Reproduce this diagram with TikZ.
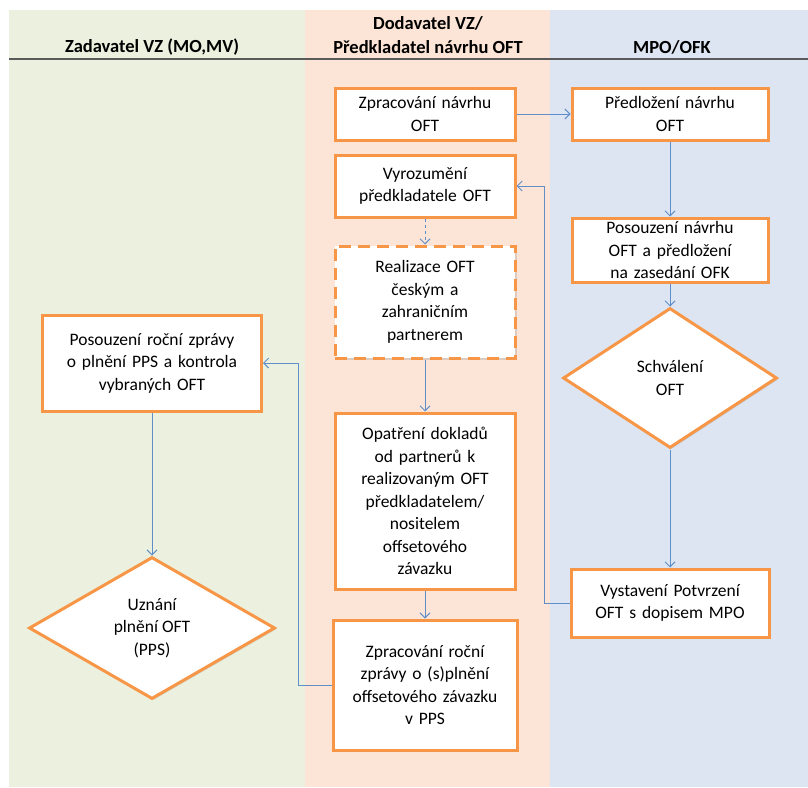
\documentclass[tikz,border=0pt]{standalone}
\usepackage{fontspec}
\setmainfont{Carlito}
\usetikzlibrary{shapes.geometric,shadows,arrows.meta}
\definecolor{greenbg}{RGB}{235,241,222}
\definecolor{orangebg}{RGB}{252,229,214}
\definecolor{bluebg}{RGB}{220,229,241}
\definecolor{boxline}{RGB}{247,150,70}
\definecolor{arrowcol}{RGB}{96,142,200}
\definecolor{headline}{RGB}{90,90,90}

\begin{document}
\begin{tikzpicture}[x=1pt,y=-1pt,font=\fontsize{17.5}{22.5}\selectfont,
  >={Straight Barb[length=5pt,width=10pt]},
  box/.style={rectangle,draw=boxline,line width=3pt,fill=white,align=center,inner sep=2pt,
    drop shadow={opacity=0.25,shadow xshift=1.5pt,shadow yshift=-1.5pt}},
  decision/.style={diamond,draw=boxline,line width=3pt,fill=white,align=center,inner sep=0pt,
    drop shadow={opacity=0.25,shadow xshift=1.5pt,shadow yshift=-1.5pt}},
  lane/.style={font=\fontsize{18.5}{24}\selectfont\bfseries,align=center},
  flow/.style={->,draw=arrowcol,line width=1pt}]
\useasboundingbox (0,0) rectangle (808,787);
\fill[greenbg] (9,10) rectangle (305,787);
\fill[orangebg] (305,10) rectangle (550,787);
\fill[bluebg] (550,10) rectangle (808,787);
\draw[headline,line width=1.6pt] (9,59) -- (808,59);
\node (zadavatel) at (152,47) [lane] {Zadavatel VZ (MO,MV)};
\node (dodavatel) at (428,35) [lane] {Dodavatel VZ/\\Předkladatel návrhu OFT};
\node (mpo) at (672,47) [lane] {MPO/OFK};
\node (zprac) at (425,114) [box,text width=176pt,minimum height=52pt] {Zpracování návrhu\\OFT};
\node (predl) at (670,114) [box,text width=192pt,minimum height=52pt] {Předložení návrhu\\OFT};
\node (vyroz) at (425,186) [box,text width=176pt,minimum height=62pt] {Vyrozumění\\předkladatele OFT};
\node (posnav) at (670,250) [box,text width=192pt,minimum height=64pt] {Posouzení návrhu\\OFT a předložení\\na zasedání OFK};
\node (realiz) at (425,302) [box,dashed,dash pattern=on 12pt off 7pt,text width=176pt,minimum height=112pt] {Realizace OFT\\českým a\\zahraničním\\partnerem};
\node (schval) at (670,378) [decision,minimum width=214pt,minimum height=140pt] {Schválení\\OFT};
\node (posroc) at (152,363) [box,text width=215pt,minimum height=96pt] {Posouzení roční zprávy\\o plnění PPS a kontrola\\vybraných OFT\\[8pt]};
\node (opatr) at (425,501) [box,text width=176pt,minimum height=176pt] {Opatření dokladů\\od partnerů k\\realizovaným OFT\\předkladatelem/\\nositelem\\offsetového\\závazku};
\node (uznani) at (152,628) [decision,minimum width=246pt,minimum height=142pt] {Uznání\\plnění OFT\\(PPS)};
\node (vystav) at (670,603) [box,text width=194pt,minimum height=68pt] {Vystavení Potvrzení\\OFT s dopisem MPO};
\node (rocni) at (425,685) [box,text width=180pt,minimum height=130pt] {Zpracování roční\\zprávy o (s)plnění\\offsetového závazku\\v PPS};
\draw[flow] (zprac) -- (predl);
\draw[flow] (predl) -- (posnav);
\draw[flow] (posnav) -- (schval);
\draw[flow] (schval) -- (vystav);
\draw[flow] (vystav.west) -- ++(-25,0) |- (vyroz.east);
\draw[flow,dashed] (vyroz) -- (realiz);
\draw[flow] (realiz) -- (opatr);
\draw[flow] (opatr) -- (rocni);
\draw[flow] (rocni.west) -- ++(-33,0) |- (posroc.east);
\draw[flow] (posroc) -- (uznani);
\end{tikzpicture}
\end{document}
